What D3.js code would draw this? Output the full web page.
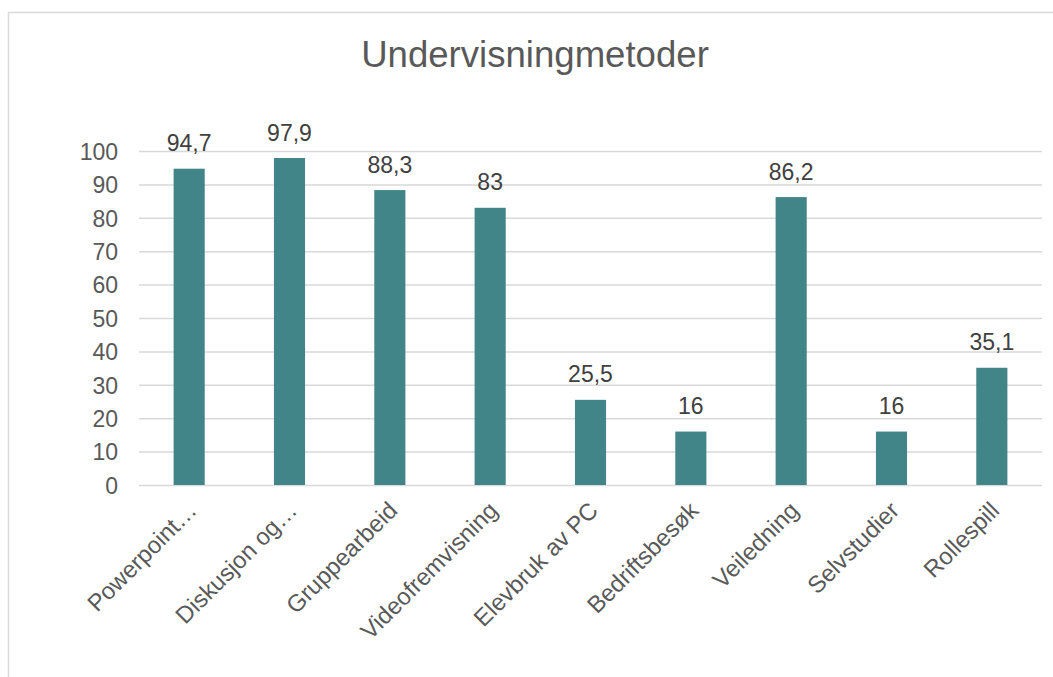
<!DOCTYPE html>
<html>
<head>
<meta charset="utf-8">
<script src="https://cdn.jsdelivr.net/npm/d3@7"></script>
<style>
  html, body { margin: 0; padding: 0; background: #ffffff; }
  svg { display: block; font-family: "Liberation Sans", Arial, sans-serif; }
</style>
</head>
<body>
<svg id="chart" width="1053" height="677"></svg>
<script>
const title = "Undervisningmetoder";
const categories = ["Powerpoint…", "Diskusjon og…", "Gruppearbeid", "Videofremvisning", "Elevbruk av PC", "Bedriftsbesøk", "Veiledning", "Selvstudier", "Rollespill"];
const values = [94.7, 97.9, 88.3, 83, 25.5, 16, 86.2, 16, 35.1];
const valueLabels = ["94,7", "97,9", "88,3", "83", "25,5", "16", "86,2", "16", "35,1"];
const yTicks = [0, 10, 20, 30, 40, 50, 60, 70, 80, 90, 100];

const svg = d3.select("#chart");
const W = 1053, H = 677;
const plot = { left: 139, right: 1042, top: 151, bottom: 485 };

svg.append("rect").attr("x", 0).attr("y", 0).attr("width", W).attr("height", H).attr("fill", "#fff");
svg.append("rect").attr("x", 8.5).attr("y", 12.5).attr("width", 1200).attr("height", 800)
  .attr("fill", "none").attr("stroke", "#d9d9d9").attr("stroke-width", 1.5);

const x = d3.scaleBand().domain(categories).range([plot.left, plot.right]).paddingInner(0.69).paddingOuter(0.345);
const y = d3.scaleLinear().domain([0, 100]).range([plot.bottom, plot.top]);

// gridlines
const yAxis = d3.axisLeft(y).tickValues(yTicks).tickSize(-(plot.right - plot.left)).tickPadding(21).tickFormat(d3.format("d"));
const gy = svg.append("g").attr("transform", `translate(${plot.left},0)`).call(yAxis);
gy.select(".domain").remove();
gy.selectAll(".tick line").attr("stroke", "#d9d9d9").attr("stroke-width", 1.5);
gy.selectAll(".tick text").attr("fill", "#595959").attr("font-size", 23)
  .attr("font-family", "Liberation Sans, Arial, sans-serif").attr("dy", "0.36em");

// bars
svg.append("g").selectAll("rect").data(values).join("rect")
  .attr("x", (d, i) => x(categories[i]))
  .attr("y", d => y(d))
  .attr("width", x.bandwidth())
  .attr("height", d => y(0) - y(d))
  .attr("fill", "#418589");

// data labels
svg.append("g").selectAll("text").data(values).join("text")
  .attr("x", (d, i) => x(categories[i]) + x.bandwidth() / 2)
  .attr("y", d => y(d) - 17.5)
  .attr("text-anchor", "middle")
  .attr("fill", "#404040")
  .attr("font-size", 23)
  .text((d, i) => valueLabels[i]);

// x axis labels
const xAxis = d3.axisBottom(x).tickSize(0).tickPadding(0);
const gx = svg.append("g").attr("transform", `translate(0,${plot.bottom})`).call(xAxis);
gx.select(".domain").remove();
gx.selectAll(".tick text")
  .attr("fill", "#595959").attr("font-size", 23.8)
  .attr("font-family", "Liberation Sans, Arial, sans-serif")
  .attr("text-anchor", "end")
  .attr("dy", 0)
  .attr("transform", "translate(9,27) rotate(-45)");

// title
svg.append("text").attr("x", 535).attr("y", 67).attr("text-anchor", "middle")
  .attr("fill", "#595959").attr("font-size", 36.6).text(title);
</script>
</body>
</html>
